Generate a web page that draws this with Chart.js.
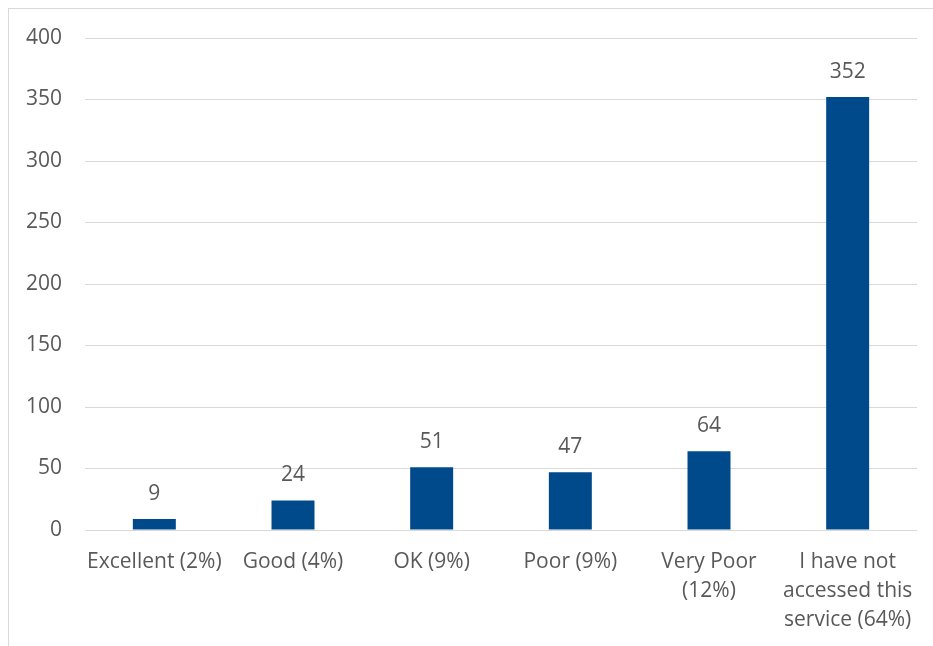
<!DOCTYPE html>
<html>
<head>
<meta charset="utf-8">
<script src="https://cdn.jsdelivr.net/npm/chart.js@4.4.0/dist/chart.umd.min.js"></script>
<style>
    body { margin: 0; background: #fff; overflow: hidden; }
    #box {
        position: absolute; left: 8px; top: 8px;
        width: 940px; height: 650px;
        border: 1px solid #d9d9d9; background: #fff;
    }
    #wrap { position: absolute; left: 0; top: 0; width: 924px; height: 637px; }
</style>
</head>
<body>
<div id="box"><div id="wrap"><canvas id="ratingChart"></canvas></div></div>
<script>
// Datos del gráfico
const categories = [
    'Excellent (2%)',
    'Good (4%)',
    'OK (9%)',
    'Poor (9%)',
    ['Very Poor', '(12%)'],
    ['I have not', 'accessed this', 'service (64%)']
];
const responses = [9, 24, 51, 47, 64, 352];
const yTicks = [0, 50, 100, 150, 200, 250, 300, 350, 400];

const textColor = '#595959';
const fontFamily = "'Open Sans', sans-serif";
const fontSize = 21;

// Etiquetas de valor encima de cada barra
const valueLabels = {
    id: 'valueLabels',
    afterDatasetsDraw(chart) {
        const ctx = chart.ctx;
        const meta = chart.getDatasetMeta(0);
        ctx.save();
        ctx.fillStyle = textColor;
        ctx.font = fontSize + 'px ' + fontFamily;
        ctx.textAlign = 'center';
        ctx.textBaseline = 'middle';
        meta.data.forEach((bar, i) => {
            ctx.fillText(String(responses[i]), bar.x, bar.y - 25);
        });
        ctx.restore();
    }
};

const ctx = document.getElementById('ratingChart').getContext('2d');
const ratingChart = new Chart(ctx, {
    type: 'bar',
    data: {
        labels: categories,
        datasets: [{
            data: responses,
            backgroundColor: '#004a8c',
            borderWidth: 0,
            categoryPercentage: 1,
            barPercentage: 0.31
        }]
    },
    options: {
        responsive: true,
        maintainAspectRatio: false,
        animation: false,
        layout: { padding: { top: 29, right: 16, left: 0, bottom: 0 } },
        plugins: {
            legend: { display: false },
            tooltip: { enabled: false }
        },
        scales: {
            x: {
                grid: { display: false, drawTicks: false },
                border: { display: false },
                ticks: {
                    color: textColor,
                    font: { family: fontFamily, size: fontSize, lineHeight: 1.38 },
                    padding: 18,
                    maxRotation: 0,
                    autoSkip: false
                },
                afterFit(scale) {
                    scale.height = 116;
                    scale.paddingLeft = 0;
                    scale.paddingRight = 0;
                }
            },
            y: {
                min: 0,
                max: 400,
                afterBuildTicks(scale) { scale.ticks = yTicks.map(v => ({ value: v })); },
                grid: { color: '#d9d9d9', lineWidth: 1, drawTicks: false },
                border: { display: false },
                ticks: {
                    color: textColor,
                    font: { family: fontFamily, size: fontSize },
                    padding: 23
                },
                afterFit(scale) {
                    scale.width = 76;
                    scale.paddingTop = 0;
                    scale.paddingBottom = 0;
                }
            }
        }
    },
    plugins: [valueLabels]
});
</script>
</body>
</html>
